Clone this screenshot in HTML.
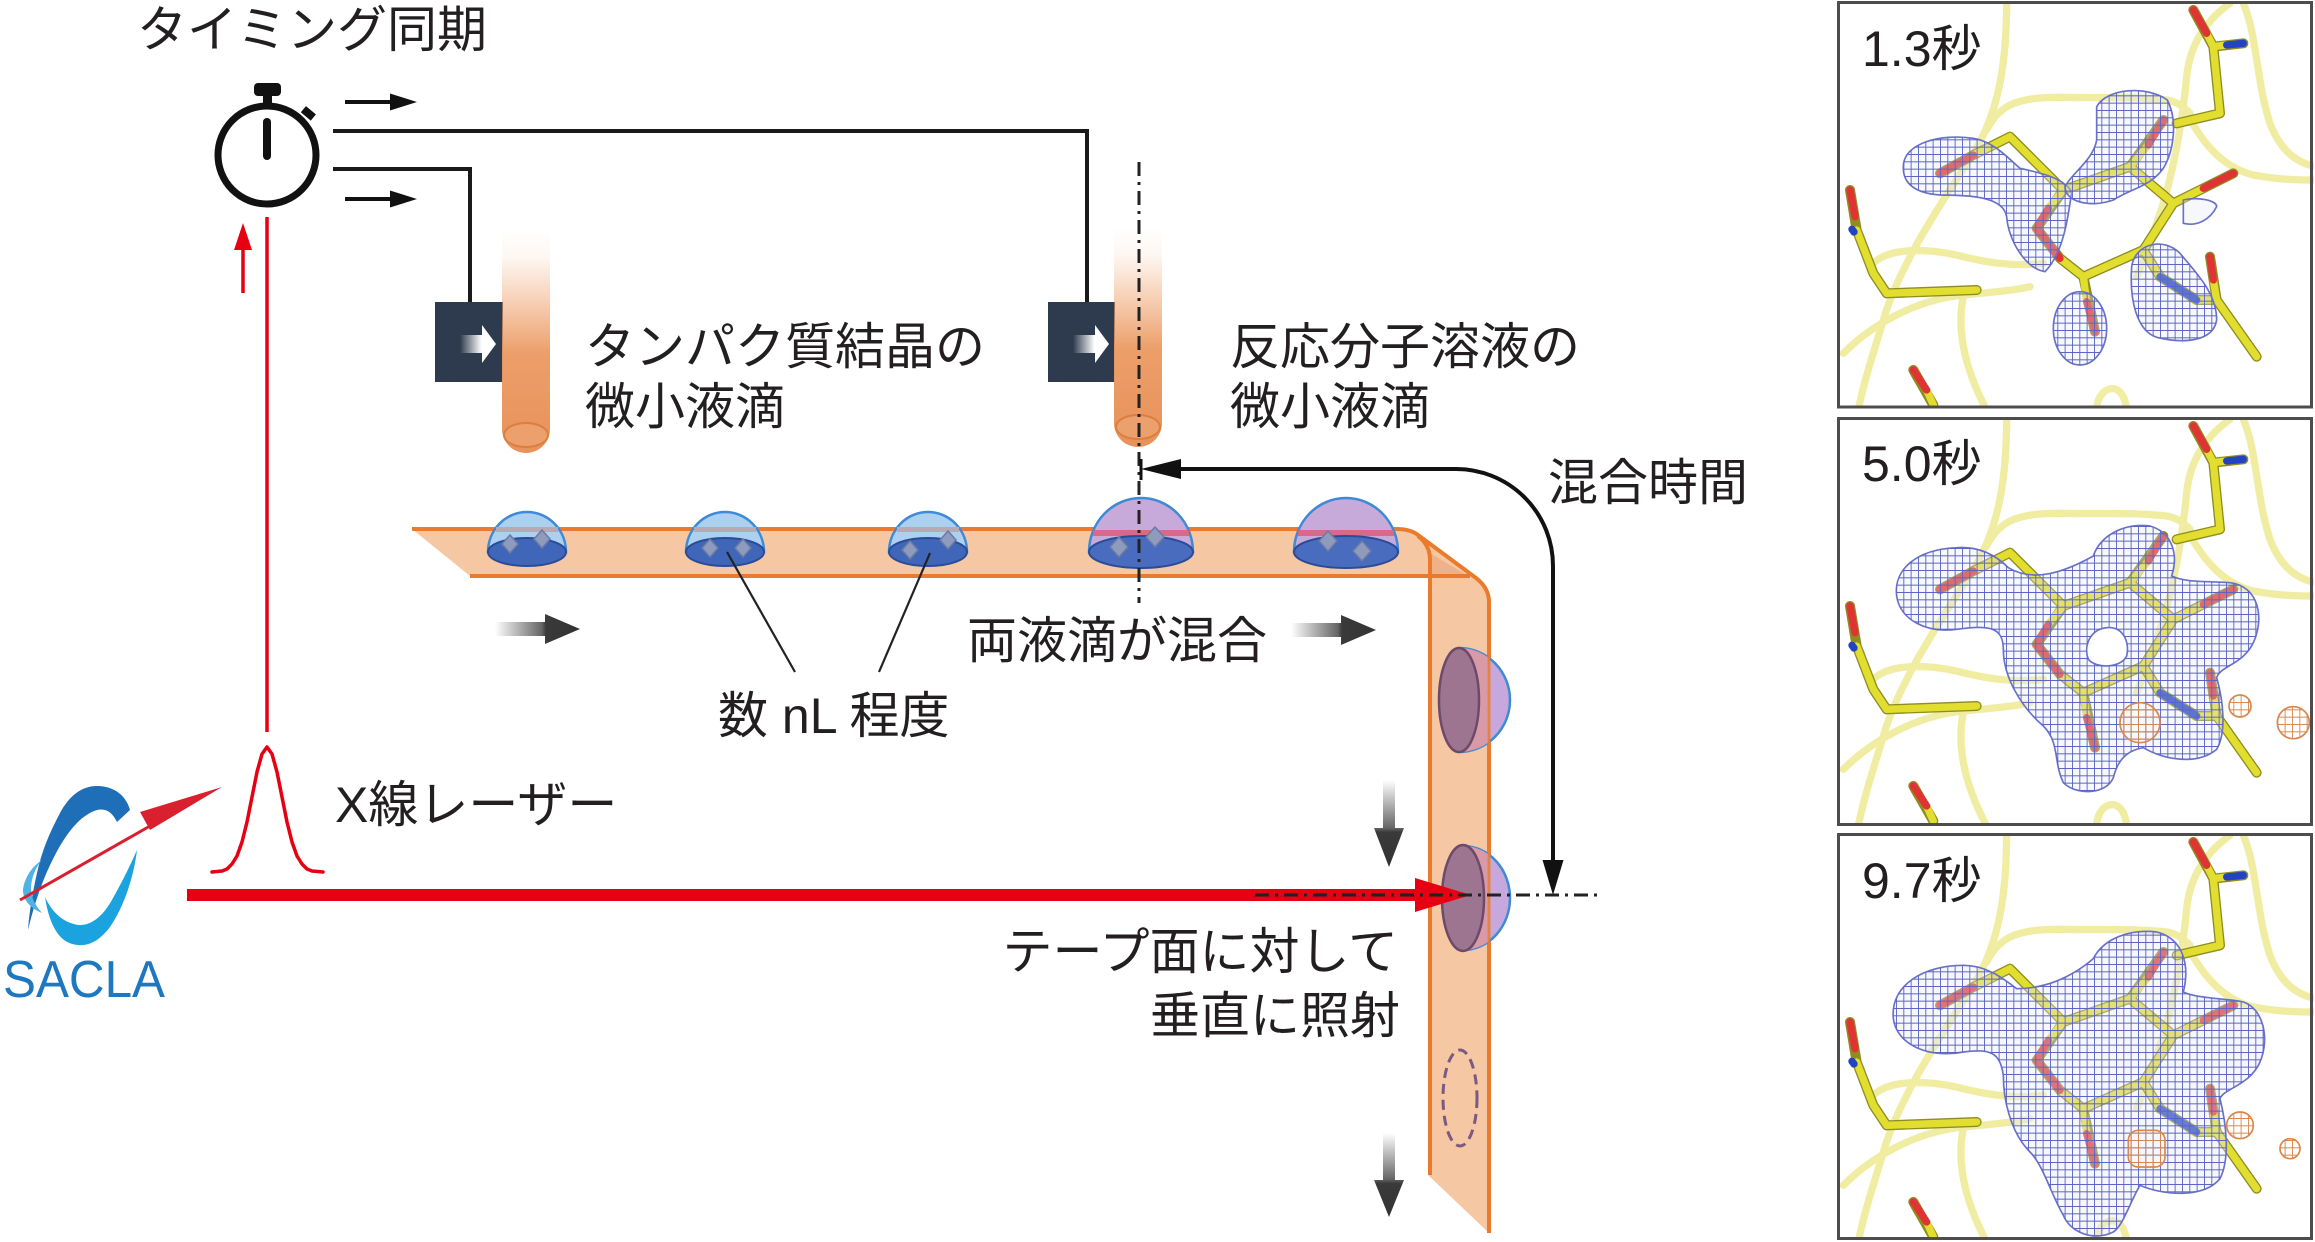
<!DOCTYPE html>
<html><head><meta charset="utf-8"><style>
html,body{margin:0;padding:0;background:#fff;}
body{width:2315px;height:1242px;overflow:hidden;}
svg{display:block;}
.t{font-family:"Liberation Sans","Noto Sans CJK JP",sans-serif;font-size:50px;fill:#231f20;}
</style></head><body>
<svg width="2315" height="1242" viewBox="0 0 2315 1242" xmlns="http://www.w3.org/2000/svg">
<defs>
<linearGradient id="noz" x1="0" y1="0" x2="0" y2="1">
<stop offset="0" stop-color="#f0a06a" stop-opacity="0"/>
<stop offset="0.12" stop-color="#f0a06a" stop-opacity="0.08"/>
<stop offset="0.55" stop-color="#eb9a62" stop-opacity="0.95"/>
<stop offset="1" stop-color="#e8915a"/>
</linearGradient>
<linearGradient id="nozs" x1="0" y1="0" x2="0" y2="1">
<stop offset="0" stop-color="#f2b58a" stop-opacity="0.5"/>
<stop offset="1" stop-color="#e88a50"/>
</linearGradient>
<linearGradient id="ga" x1="0" y1="0" x2="1" y2="0">
<stop offset="0" stop-color="#ffffff"/>
<stop offset="0.55" stop-color="#666"/>
<stop offset="0.6" stop-color="#3a3a3a"/>
<stop offset="1" stop-color="#333"/>
</linearGradient>
<linearGradient id="gv" x1="0" y1="0" x2="0" y2="1">
<stop offset="0" stop-color="#ffffff"/>
<stop offset="0.55" stop-color="#666"/>
<stop offset="0.6" stop-color="#3a3a3a"/>
<stop offset="1" stop-color="#333"/>
</linearGradient>
<linearGradient id="wa" x1="0" y1="0" x2="1" y2="0">
<stop offset="0" stop-color="#ffffff" stop-opacity="0"/>
<stop offset="0.6" stop-color="#ffffff" stop-opacity="1"/>
<stop offset="1" stop-color="#ffffff"/>
</linearGradient>
<pattern id="mesh" width="22" height="22" patternUnits="userSpaceOnUse">
<path d="M0,1H22M1,0V22" stroke="#5b63c2" stroke-width="3.5" fill="none"/>
</pattern>
<pattern id="omesh" width="22" height="22" patternUnits="userSpaceOnUse">
<path d="M0,1H22M1,0V22" stroke="#d8874e" stroke-width="3.5" fill="none"/>
</pattern>
<clipPath id="pc"><rect x="27" y="6" width="1425" height="1218"/></clipPath>
<clipPath id="tapeR1"><rect x="1420" y="600" width="69" height="200"/></clipPath>
<clipPath id="tapeR2"><rect x="1420" y="800" width="69" height="200"/></clipPath>
<g id="mol">
<g fill="none" stroke="#efec9a" stroke-width="22" stroke-linecap="round" opacity="0.9">
<path d="M530,0 C530,180 510,330 430,460 C340,600 210,790 160,960 C130,1060 100,1150 85,1230"/>
<path d="M470,390 C510,310 570,290 700,292 C820,295 900,288 1010,300 C1040,305 1060,320 1080,340"/>
<path d="M1200,10 C1130,60 1080,130 1070,230 C1055,380 1030,520 990,640 C960,730 940,780 920,830"/>
<path d="M1240,10 C1280,100 1280,250 1320,370 C1350,450 1400,490 1460,500"/>
<path d="M1060,320 C1110,420 1170,500 1270,525 C1350,540 1410,540 1460,540"/>
<path d="M130,790 C180,740 300,745 400,770 C480,790 560,800 640,790"/>
<path d="M40,1060 C120,980 250,900 400,885 C500,875 560,870 600,860"/>
<path d="M400,890 C380,980 400,1100 470,1230"/>
<path d="M800,1230 C800,1160 880,1130 890,1230"/>
</g>
<g fill="none" stroke-linecap="round" stroke-linejoin="round">
<g stroke="#8f8c22" stroke-width="30">
<path d="M330,520 L430,465 L540,410 L700,570 L900,500 L1030,610 L1210,520 M1030,610 L940,750 L760,830 L690,775 L620,685 L700,570 M760,830 L795,995 M900,500 L1000,360 M940,750 L990,830 L1100,900 L1160,900 L1280,1070 M1160,900 L1140,770 M60,570 L80,690 L130,820 L170,880 L440,870 M1090,30 L1150,140 L1240,130 M1150,140 L1170,340 L1040,370 M250,1110 L310,1215"/>
</g>
<g stroke="#e2de30" stroke-width="22">
<path d="M430,465 L540,410 L700,570 L900,500 L1030,610 L1120,565 M1030,610 L940,750 L760,830 L690,775 M700,570 L655,625 M760,830 L770,905 M900,500 L955,435 M940,750 L990,830 M1100,900 L1160,900 L1280,1070 M1160,900 L1150,840 M80,690 L130,820 L170,880 L440,870 M1130,100 L1150,140 L1190,135 M1150,140 L1170,340 L1040,370 M290,1170 L310,1215"/>
</g>
<g stroke="#e03434" stroke-width="22">
<path d="M330,520 L430,465 M1120,565 L1210,520 M655,625 L620,685 L690,775 M770,905 L795,995 M955,435 L1000,360 M1150,840 L1140,770 M60,570 L75,650 M1090,30 L1130,100 M250,1110 L290,1170"/>
</g>
<g stroke="#2244c0" stroke-width="22">
<path d="M990,830 L1100,900 M1190,135 L1240,130 M66,688 L72,696"/>
</g>
</g>
</g>
</defs>

<!-- ===== Right panels ===== -->
<g transform="translate(1830,0) scale(0.33333)" clip-path="url(#pc)">
<use href="#mol"/>
<g fill="rgba(230,232,250,0.3)" stroke="#6a72c8" stroke-width="5">
<path d="M220,500 C220,430 330,400 430,415 C490,425 530,470 570,505 C640,520 700,535 725,575 C715,650 700,760 645,815 C585,805 535,720 530,650 C520,590 420,585 330,585 C255,580 218,550 220,500 Z"/>
<path d="M800,320 C830,265 950,255 1012,300 C1045,365 1030,455 1000,505 C960,560 905,565 850,600 C780,625 705,605 705,560 C725,520 790,480 800,420 Z"/>
<ellipse cx="750" cy="985" rx="80" ry="110"/>
<path d="M905,800 C915,730 1000,710 1050,760 C1100,820 1160,880 1160,960 C1150,1025 1060,1032 980,1012 C920,992 898,900 905,800 Z"/>
<path d="M1060,600 C1100,590 1160,600 1160,620 C1140,660 1100,680 1060,670 Z"/>
</g>
<g fill="url(#mesh)">
<path d="M220,500 C220,430 330,400 430,415 C490,425 530,470 570,505 C640,520 700,535 725,575 C715,650 700,760 645,815 C585,805 535,720 530,650 C520,590 420,585 330,585 C255,580 218,550 220,500 Z"/>
<path d="M800,320 C830,265 950,255 1012,300 C1045,365 1030,455 1000,505 C960,560 905,565 850,600 C780,625 705,605 705,560 C725,520 790,480 800,420 Z"/>
<ellipse cx="750" cy="985" rx="80" ry="110"/>
<path d="M905,800 C915,730 1000,710 1050,760 C1100,820 1160,880 1160,960 C1150,1025 1060,1032 980,1012 C920,992 898,900 905,800 Z"/>
</g>
</g>

<g transform="translate(1830,416) scale(0.33333)" clip-path="url(#pc)">
<use href="#mol"/>
<path fill-rule="evenodd" fill="rgba(230,232,250,0.3)" stroke="#6a72c8" stroke-width="5" d="M200,540 C190,460 260,400 380,395 C450,390 500,420 535,455 C610,500 700,470 790,420 C810,360 880,320 960,330 C1030,350 1045,420 1025,480 C1070,500 1120,495 1200,500 C1285,510 1305,605 1270,680 C1240,745 1170,750 1160,785 C1180,855 1190,950 1160,1000 C1100,1050 1000,1030 940,995 C880,1005 860,1045 850,1085 C830,1135 740,1140 700,1100 C670,1040 690,980 640,930 C570,870 520,780 520,700 C520,635 480,625 380,640 C290,652 210,612 200,540 Z M830,635 C880,630 900,680 890,720 C875,755 800,760 775,730 C760,690 780,640 830,635 Z"/>
<path fill-rule="evenodd" fill="url(#mesh)" d="M200,540 C190,460 260,400 380,395 C450,390 500,420 535,455 C610,500 700,470 790,420 C810,360 880,320 960,330 C1030,350 1045,420 1025,480 C1070,500 1120,495 1200,500 C1285,510 1305,605 1270,680 C1240,745 1170,750 1160,785 C1180,855 1190,950 1160,1000 C1100,1050 1000,1030 940,995 C880,1005 860,1045 850,1085 C830,1135 740,1140 700,1100 C670,1040 690,980 640,930 C570,870 520,780 520,700 C520,635 480,625 380,640 C290,652 210,612 200,540 Z M830,635 C880,630 900,680 890,720 C875,755 800,760 775,730 C760,690 780,640 830,635 Z"/>
<g fill="url(#omesh)" stroke="#d8874e" stroke-width="5">
<circle cx="930" cy="920" r="60"/><circle cx="1230" cy="870" r="33"/><circle cx="1390" cy="920" r="48"/>
</g>
</g>

<g transform="translate(1830,832) scale(0.33333)" clip-path="url(#pc)">
<use href="#mol"/>
<path fill="rgba(230,232,250,0.35)" stroke="#6a72c8" stroke-width="5" d="M190,560 C180,460 280,400 400,400 C470,400 520,440 560,470 C640,470 720,440 790,380 C820,320 900,290 980,300 C1060,320 1080,400 1060,480 C1100,500 1200,500 1240,510 C1300,530 1320,620 1290,690 C1260,760 1180,770 1170,800 C1190,880 1200,980 1170,1040 C1120,1100 1000,1090 930,1060 C900,1110 880,1180 850,1200 C790,1230 720,1200 700,1150 C660,1080 640,1000 600,960 C540,900 520,800 520,730 C510,660 480,650 400,660 C300,680 200,640 190,560 Z"/>
<path fill="url(#mesh)" d="M190,560 C180,460 280,400 400,400 C470,400 520,440 560,470 C640,470 720,440 790,380 C820,320 900,290 980,300 C1060,320 1080,400 1060,480 C1100,500 1200,500 1240,510 C1300,530 1320,620 1290,690 C1260,760 1180,770 1170,800 C1190,880 1200,980 1170,1040 C1120,1100 1000,1090 930,1060 C900,1110 880,1180 850,1200 C790,1230 720,1200 700,1150 C660,1080 640,1000 600,960 C540,900 520,800 520,730 C510,660 480,650 400,660 C300,680 200,640 190,560 Z"/>
<g fill="url(#omesh)" stroke="#d8874e" stroke-width="5">
<rect x="895" y="895" width="110" height="110" rx="30"/><circle cx="1230" cy="880" r="40"/><circle cx="1380" cy="950" r="30"/>
</g>
</g>

<g fill="none" stroke="#4d4d4d" stroke-width="3">
<rect x="1838.5" y="2.5" width="473" height="404.5"/>
<rect x="1838.5" y="418.5" width="473" height="406"/>
<rect x="1838.5" y="834.5" width="473" height="404"/>
</g>
<text class="t" x="1862" y="66">1.3秒</text>
<text class="t" x="1862" y="481">5.0秒</text>
<text class="t" x="1862" y="898">9.7秒</text>

<!-- ===== Stopwatch ===== -->
<circle cx="267" cy="155" r="49" fill="none" stroke="#111" stroke-width="7"/>
<rect x="254" y="83" width="27" height="13" rx="4" fill="#111"/>
<rect x="263" y="94" width="9" height="13" fill="#111"/>
<rect x="302" y="109" width="13" height="8" fill="#111" transform="rotate(40 308 113)"/>
<line x1="267" y1="122" x2="267" y2="156" stroke="#111" stroke-width="8" stroke-linecap="round"/>

<!-- small black arrows -->
<g fill="#111">
<rect x="345" y="100" width="48" height="4"/>
<polygon points="390,93.5 417,102 390,110.5"/>
<rect x="345" y="197" width="48" height="4"/>
<polygon points="390,190.5 417,199 390,207.5"/>
</g>

<!-- connector lines -->
<g fill="none" stroke="#1a1a1a" stroke-width="4">
<path d="M333,131 H1087 V302"/>
<path d="M333,169 H470 V302"/>
</g>

<!-- dark boxes -->
<rect x="435" y="302" width="68" height="80" fill="#2e3b4e"/>
<path d="M460,335 H482 V325 L496,344 L482,363 V353 H460 Z" fill="url(#wa)"/>
<rect x="1048" y="302" width="67" height="80" fill="#2e3b4e"/>
<path d="M1073,335 H1095 V325 L1109,344 L1095,363 V353 H1073 Z" fill="url(#wa)"/>

<!-- nozzles -->
<path d="M502,230 V429 A24,24 0 0 0 550,429 V230 Z" fill="url(#noz)"/>
<line x1="503" y1="230" x2="503" y2="430" stroke="url(#nozs)" stroke-width="2"/>
<line x1="549" y1="230" x2="549" y2="430" stroke="url(#nozs)" stroke-width="2"/>
<ellipse cx="526" cy="435" rx="22" ry="12" fill="#eca06c" stroke="#dc7e40" stroke-width="2"/>
<path d="M1114,228 V423 A24,24 0 0 0 1162,423 V228 Z" fill="url(#noz)"/>
<line x1="1115" y1="228" x2="1115" y2="424" stroke="url(#nozs)" stroke-width="2"/>
<line x1="1161" y1="228" x2="1161" y2="424" stroke="url(#nozs)" stroke-width="2"/>
<ellipse cx="1138" cy="427" rx="22" ry="12" fill="#eca06c" stroke="#dc7e40" stroke-width="2"/>

<!-- tape -->
<path d="M412,529 L1397,529 Q1410,529 1418,535 L1476,578 Q1489,588 1489,602 L1489,1233 L1428,1175 L1430,576 L470,576 Z" fill="#f6c7a3"/>
<polygon points="1430,553 1470,577 1430,576" fill="#efb288"/>
<g fill="none" stroke="#ea7b2c" stroke-width="4">
<path d="M412,529 L1397,529 Q1410,529 1418,535 L1476,578 Q1489,588 1489,602 L1489,1233"/>
<path d="M470,576 L1470,576"/>
<path d="M1418,536 Q1430,545 1430,560 L1430,1175"/>
</g>

<!-- droplets type A -->
<g stroke-width="2.5">
<path d="M488,552 A39,40 0 0 1 566,552 Z" fill="#acd0ef" stroke="#3d8ad6"/>
<rect x="496" y="527" width="62" height="5" fill="#b9a9b2"/>
<ellipse cx="527" cy="552" rx="39" ry="14" fill="#3f66b8" stroke="#2a4c98" stroke-width="2"/>
<polygon points="510,535 518,544 510,553 502,544" fill="#8e9bbd" stroke="#6b7aa6" stroke-width="1.5"/>
<polygon points="542,530 550,539 542,548 534,539" fill="#8e9bbd" stroke="#6b7aa6" stroke-width="1.5"/>

<path d="M686,552 A39,40 0 0 1 764,552 Z" fill="#acd0ef" stroke="#3d8ad6"/>
<rect x="694" y="527" width="62" height="5" fill="#b9a9b2"/>
<ellipse cx="725" cy="552" rx="39" ry="14" fill="#3f66b8" stroke="#2a4c98" stroke-width="2"/>
<polygon points="710,539 718,548 710,557 702,548" fill="#8e9bbd" stroke="#6b7aa6" stroke-width="1.5"/>
<polygon points="743,539 751,548 743,557 735,548" fill="#8e9bbd" stroke="#6b7aa6" stroke-width="1.5"/>

<path d="M889,552 A39,40 0 0 1 967,552 Z" fill="#acd0ef" stroke="#3d8ad6"/>
<rect x="897" y="527" width="62" height="5" fill="#b9a9b2"/>
<ellipse cx="928" cy="552" rx="39" ry="14" fill="#3f66b8" stroke="#2a4c98" stroke-width="2"/>
<polygon points="910,541 918,550 910,559 902,550" fill="#8e9bbd" stroke="#6b7aa6" stroke-width="1.5"/>
<polygon points="948,531 956,540 948,549 940,540" fill="#8e9bbd" stroke="#6b7aa6" stroke-width="1.5"/>

<!-- type B -->
<path d="M1089,552 A52,54 0 0 1 1193,552 Z" fill="#c8aada" stroke="#3d8ad6"/>
<rect x="1093" y="530" width="96" height="6" fill="#d8607a" opacity="0.85"/>
<ellipse cx="1141" cy="552" rx="52" ry="16" fill="#4a6cbf" stroke="#2a4c98" stroke-width="2"/>
<polygon points="1119,537 1128,547 1119,557 1110,547" fill="#8e9bbd" stroke="#6b7aa6" stroke-width="1.5"/>
<polygon points="1155,527 1164,537 1155,547 1146,537" fill="#8e9bbd" stroke="#6b7aa6" stroke-width="1.5"/>

<path d="M1294,552 A52,54 0 0 1 1398,552 Z" fill="#c8aada" stroke="#3d8ad6"/>
<rect x="1298" y="530" width="96" height="6" fill="#d8607a" opacity="0.85"/>
<ellipse cx="1346" cy="552" rx="52" ry="16" fill="#4a6cbf" stroke="#2a4c98" stroke-width="2"/>
<polygon points="1328,531 1337,541 1328,551 1319,541" fill="#8e9bbd" stroke="#6b7aa6" stroke-width="1.5"/>
<polygon points="1362,541 1371,551 1362,561 1353,551" fill="#8e9bbd" stroke="#6b7aa6" stroke-width="1.5"/>
</g>

<!-- vertical droplets -->
<path d="M1459,648 A51,52 0 0 1 1459,752 Z" fill="#c6a8dc" stroke="#3d8ad6" stroke-width="2.5"/>
<path d="M1459,648 A51,52 0 0 1 1459,752 Z" fill="#d99aa8" clip-path="url(#tapeR1)"/>
<ellipse cx="1459" cy="700" rx="20" ry="52" fill="#9d7590" stroke="#6e4a6a" stroke-width="2.5"/>
<path d="M1463,846 A47,52 0 0 1 1463,950 Z" fill="#c6a8dc" stroke="#3d8ad6" stroke-width="2.5"/>
<path d="M1463,846 A47,52 0 0 1 1463,950 Z" fill="#d99aa8" clip-path="url(#tapeR2)"/>
<ellipse cx="1463" cy="898" rx="21" ry="53" fill="#9d7590" stroke="#6e4a6a" stroke-width="2.5"/>
<line x1="1489" y1="640" x2="1489" y2="960" stroke="#ea7b2c" stroke-width="3" opacity="0.8"/>
<ellipse cx="1460" cy="1098" rx="17" ry="48" fill="none" stroke="#7a5a80" stroke-width="3" stroke-dasharray="10 6"/>

<!-- gray arrows -->
<path d="M495,622 H545 V614 L580,629 L545,644 V636 H495 Z" fill="url(#ga)"/>
<path d="M1291,623 H1341 V615 L1376,630 L1341,645 V637 H1291 Z" fill="url(#ga)"/>
<path d="M1383,780 V828 H1374 L1389,867 L1404,828 H1395 V780 Z" fill="url(#gv)"/>
<path d="M1383,1133 V1180 H1374 L1389,1217 L1404,1180 H1395 V1133 Z" fill="url(#gv)"/>

<!-- leader lines -->
<g stroke="#222" stroke-width="2.2">
<line x1="727" y1="552" x2="795" y2="672"/>
<line x1="930" y1="553" x2="879" y2="672"/>
</g>

<!-- dash-dot vertical -->
<line x1="1139" y1="162" x2="1139" y2="603" stroke="#222" stroke-width="3" stroke-dasharray="14 6 3 6"/>

<!-- mixing time arrow -->
<path d="M1176,469 H1456 A97,97 0 0 1 1553,566 V862" fill="none" stroke="#111" stroke-width="4"/>
<polygon points="1141,469 1181,459 1181,479" fill="#111"/>
<line x1="1141" y1="459" x2="1141" y2="480" stroke="#111" stroke-width="3"/>
<polygon points="1542.5,860 1563.5,860 1553,895" fill="#111"/>

<!-- red lines -->
<line x1="267" y1="217" x2="267" y2="732" stroke="#e60012" stroke-width="3.5"/>
<line x1="243" y1="293" x2="243" y2="245" stroke="#e60012" stroke-width="3.5"/>
<polygon points="234,250 252,250 243,223" fill="#e60012"/>
<polyline points="212,872 222,871 227,869 232,864 237,856 242,842 247,822 252,797 257,772 262,754 267,747 272,754 277,772 282,797 287,822 292,842 297,856 302,864 307,869 312,871 323,872" fill="none" stroke="#e60012" stroke-width="3.5" stroke-linejoin="round" stroke-linecap="round"/>
<rect x="187" y="889" width="1232" height="12" fill="#e60012"/>
<polygon points="1415,878 1471,895 1415,912" fill="#e60012"/>
<line x1="1255" y1="895" x2="1600" y2="895" stroke="#222" stroke-width="3" stroke-dasharray="14 6 3 6"/>

<!-- SACLA logo -->
<path d="M130,810 C125,792 110,786 97,786 C80,786 68,798 60,813 C50,832 42,850 37,873 C32,895 29,915 28,930 C34,905 42,880 55,855 C66,834 80,815 97,810 C106,808 112,812 117,822 Z" fill="#1e6fb8"/>
<path d="M137,850 C134,875 125,905 110,927 C100,940 90,946 78,945 C62,944 50,930 45,897 C52,912 62,922 78,925 C92,926 104,915 113,898 C122,882 130,866 137,850 Z" fill="#1aa3df"/>
<path d="M42,860 C30,868 24,880 23,890 C23,900 30,908 42,913 C35,905 31,897 31,889 C31,879 35,868 42,860 Z" fill="#4fb3e6"/>
<line x1="20" y1="900" x2="150" y2="826" stroke="#d9202e" stroke-width="3"/>
<polygon points="140,812 222,787 150,830" fill="#d9202e"/>
<text x="3" y="997" font-family="Liberation Sans, sans-serif" font-size="52" fill="#1e78c0" textLength="162" lengthAdjust="spacingAndGlyphs">SACLA</text>

<!-- labels -->
<text class="t" x="137" y="47">タイミング同期</text>
<text class="t" x="585" y="364">タンパク質結晶の</text>
<text class="t" x="585" y="424">微小液滴</text>
<text class="t" x="1230" y="364">反応分子溶液の</text>
<text class="t" x="1230" y="424">微小液滴</text>
<text class="t" x="1548" y="500">混合時間</text>
<text class="t" x="967" y="658">両液滴が混合</text>
<text class="t" x="718" y="733">数 nL 程度</text>
<text class="t" x="335" y="822">X線レーザー</text>
<text class="t" x="1398" y="969" text-anchor="end">テープ面に対して</text>
<text class="t" x="1400" y="1033" text-anchor="end">垂直に照射</text>
</svg>
</body></html>
